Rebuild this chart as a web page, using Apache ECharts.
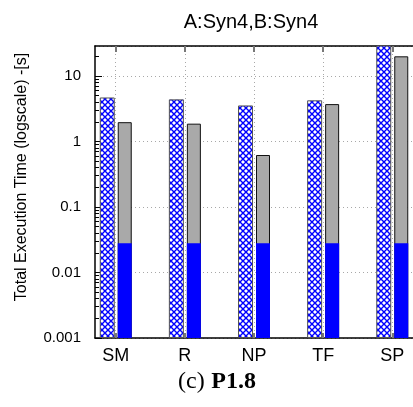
<!DOCTYPE html>
<html>
<head>
<meta charset="utf-8">
<script src="https://cdn.jsdelivr.net/npm/echarts@6/dist/echarts.min.js"></script>
<style>
  html, body { margin: 0; padding: 0; background: #fff; }
  #chart { width: 413px; height: 407px; }
</style>
</head>
<body>
<div id="chart"></div>
<script>
// Workloads on the x axis
const categories = ['SM', 'R', 'NP', 'TF', 'SP'];
// Execution times in seconds
const hatchedTimes = [4.7, 4.4, 3.55, 4.25, 35];
const totalTimes = [2.0, 1.9, 0.65, 3.75, 20];
const baseTimes = [0.028, 0.028, 0.028, 0.028, 0.028];
// Y axis decades and their labels
const yTicks = [0.001, 0.01, 0.1, 1, 10];
const yTickLabels = ['0.001', '0.01', '0.1', '1', '10'];

const Y_MIN = 0.001, Y_MAX = 28.7;
const positions = categories.map((_, i) => i);

// minor log ticks at 2..9 within each decade, as log10 positions
const yMinorLog = [];
yTicks.forEach(d => { for (let m = 2; m <= 9; m++) { const v = d * m; if (v < Y_MAX) yMinorLog.push(Math.log10(v)); } });

// cross-hatch fill
const hatch = document.createElement('canvas');
hatch.width = 6; hatch.height = 6;
(function () {
  const c = hatch.getContext('2d');
  c.fillStyle = '#ffffff';
  c.fillRect(0, 0, 6, 6);
  c.strokeStyle = '#0000ff';
  c.lineWidth = 1.4;
  c.beginPath();
  c.moveTo(-1, -1); c.lineTo(7, 7);
  c.moveTo(7, -1); c.lineTo(-1, 7);
  c.stroke();
})();

const font = 'Liberation Sans';
const dotted = { type: [1, 3], color: '#a8a8a8', width: 1 };

const chart = echarts.init(document.getElementById('chart'), null, { renderer: 'canvas' });
chart.setOption({
  animation: false,
  backgroundColor: '#fff',
  grid: { left: 95, top: 46, right: -3, bottom: 69 },
  xAxis: [{
    type: 'value', min: -0.3, max: 4.3, position: 'bottom',
    axisLine: { show: true, onZero: false, lineStyle: { color: '#000', width: 1.5 } },
    axisTick: { show: true, inside: true, length: 5, customValues: positions, lineStyle: { color: '#777', width: 2 } },
    axisLabel: {
      customValues: positions, margin: 9,
      formatter: v => categories[Math.round(v)] || '',
      color: '#000', fontFamily: font, fontSize: 18
    },
    splitLine: { show: true, lineStyle: dotted }
  }, {
    type: 'value', min: -0.3, max: 4.3, position: 'top',
    axisLine: { show: true, onZero: false, lineStyle: { color: '#000', width: 1.5 } },
    axisTick: { show: true, inside: true, length: 6, customValues: positions, lineStyle: { color: '#777', width: 2 } },
    axisLabel: { show: false },
    splitLine: { show: false }
  }],
  yAxis: [{
    type: 'log', logBase: 10, min: Y_MIN, max: Y_MAX, startValue: Y_MIN, position: 'left',
    axisLine: { show: true, onZero: false, lineStyle: { color: '#000', width: 1.5 } },
    axisTick: { show: true, inside: true, length: 7, lineStyle: { color: '#000' } },
    axisLabel: {
      margin: 14, color: '#000', fontFamily: font, fontSize: 15, showMaxLabel: false,
      formatter: v => {
        const i = yTicks.findIndex(t => Math.abs(Math.log10(t) - Math.log10(v)) < 1e-6);
        return i >= 0 ? yTickLabels[i] : '';
      }
    },
    splitLine: { show: true, lineStyle: dotted }
  }, {
    // linear axis in log10 units, used only for the minor tick marks
    type: 'value', min: Math.log10(Y_MIN), max: Math.log10(Y_MAX), position: 'left',
    axisLine: { show: false, onZero: false },
    axisTick: { show: true, inside: true, length: 4, customValues: yMinorLog, lineStyle: { color: '#000' } },
    axisLabel: { show: false },
    splitLine: { show: false }
  }],
  series: [{
    name: 'A', type: 'bar', xAxisIndex: 0, yAxisIndex: 0,
    barWidth: 15, barGap: '20%',
    data: positions.map((x, i) => [x, hatchedTimes[i]]),
    itemStyle: { color: { image: hatch, repeat: 'repeat' }, borderColor: '#555', borderWidth: 1 }
  }, {
    name: 'B base', type: 'bar', stack: 'B', xAxisIndex: 0, yAxisIndex: 0,
    barWidth: 14, barGap: '20%', z: 3,
    data: positions.map((x, i) => [x, baseTimes[i]]),
    itemStyle: { color: '#0000ff', borderColor: '#000', borderWidth: 0 }
  }, {
    name: 'B', type: 'bar', stack: 'B', xAxisIndex: 0, yAxisIndex: 0,
    barWidth: 14, barGap: '20%',
    data: positions.map((x, i) => [x, totalTimes[i] - baseTimes[i]]),
    itemStyle: { color: '#a9a9a9', borderColor: '#111', borderWidth: 1 }
  }],
  graphic: [{
    type: 'text', x: 251, y: 22,
    style: { text: 'A:Syn4,B:Syn4', fill: '#000', font: '20px "Liberation Sans"', textAlign: 'center', textVerticalAlign: 'middle' }
  }, {
    type: 'text', x: 22, y: 177, rotation: Math.PI / 2,
    style: { text: 'Total Execution Time (logscale) -[s]', fill: '#000', font: '16px "Liberation Sans"', textAlign: 'center', textVerticalAlign: 'middle' }
  }, {
    type: 'text', x: 217, y: 382,
    style: {
      text: '{n|(c)}  {b|P1.8}', textAlign: 'center', textVerticalAlign: 'middle',
      rich: {
        n: { fontFamily: 'Liberation Serif', fontSize: 24, fill: '#000', color: '#000' },
        b: { fontFamily: 'Liberation Serif', fontSize: 24, fontWeight: 'bold', fill: '#000', color: '#000' }
      }
    }
  }]
});
</script>
</body>
</html>
